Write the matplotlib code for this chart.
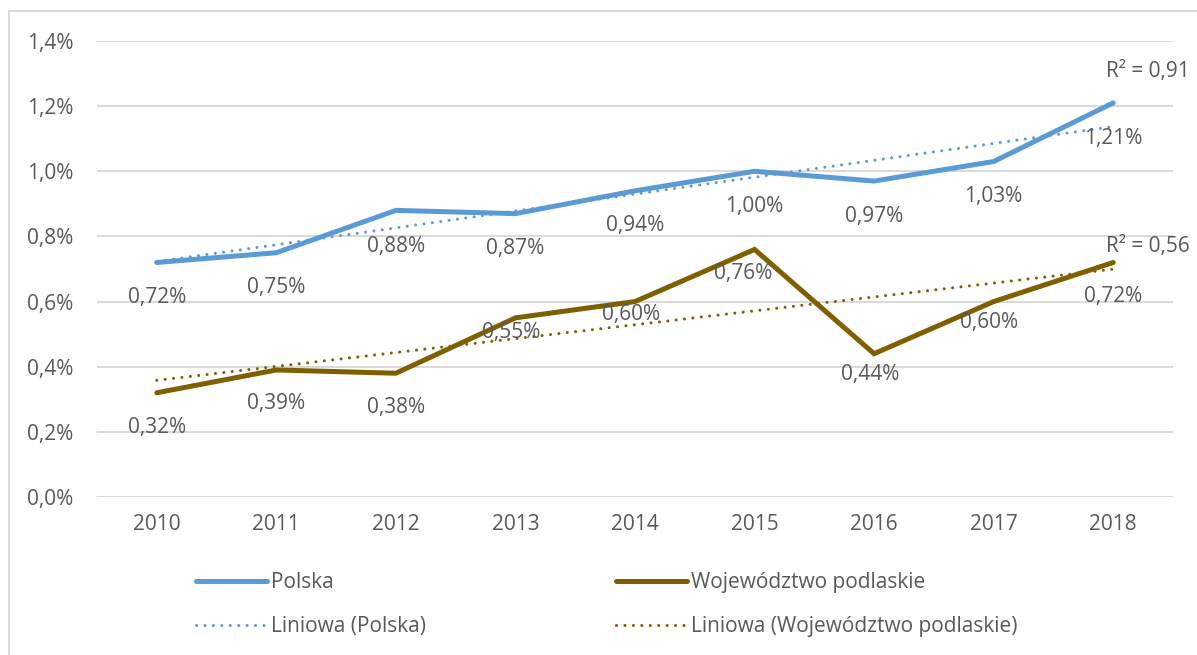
import numpy as np
import matplotlib.pyplot as plt
from matplotlib.patches import Rectangle

years = ['2010', '2011', '2012', '2013', '2014', '2015', '2016', '2017', '2018']
polska = [0.72, 0.75, 0.88, 0.87, 0.94, 1.00, 0.97, 1.03, 1.21]
podlaskie = [0.32, 0.39, 0.38, 0.55, 0.60, 0.76, 0.44, 0.60, 0.72]

# label offsets below the point, pixels
polska_dy = [35, 35, 36, 35, 35, 35, 35, 35, 36]
podlaskie_dy = [35, 34, 34, 15, 13, 24, 21, 21, 34]
podlaskie_dx = [0, 0, 0, -4, -4, -11, -4, -5, 0]

blue = '#5B9BD5'
gold = '#7F6000'
txt = '#595959'
grid_c = '#D9D9D9'

plt.rcParams['font.family'] = ['Open Sans', 'DejaVu Sans']
FS = 15

W, H = 1197, 655
fig = plt.figure(figsize=(W / 100, H / 100), dpi=100)
ax = fig.add_axes([97 / W, 1 - 497 / H, (1173 - 97) / W, (497 - 41) / H])

x = np.arange(len(years))

def fmt(v, nd):
    return f'{v:.{nd}f}'.replace('.', ',')

def trend(y):
    a, b = np.polyfit(x, y, 1)
    fit = a * x + b
    r2 = 1 - np.sum((np.array(y) - fit) ** 2) / np.sum((np.array(y) - np.mean(y)) ** 2)
    return fit, r2

dots = (0, (0.01, 2.75))
lp, = ax.plot(x, polska, color=blue, lw=3.6, solid_capstyle='round', solid_joinstyle='miter', zorder=3)
lw_, = ax.plot(x, podlaskie, color=gold, lw=3.6, solid_capstyle='round', solid_joinstyle='miter', zorder=3)
fp, r2p = trend(polska)
fw, r2w = trend(podlaskie)
tp, = ax.plot(x, fp, color=blue, lw=2.2, linestyle=dots, dash_capstyle='round', zorder=4)
tw, = ax.plot(x, fw, color=gold, lw=2.2, linestyle=dots, dash_capstyle='round', zorder=4)

for i, v in enumerate(polska):
    ax.annotate(fmt(v, 2) + '%', (x[i], v), xytext=(0, -polska_dy[i]), textcoords='offset pixels',
                ha='center', va='center', fontsize=FS, color=txt, zorder=5)
for i, v in enumerate(podlaskie):
    ax.annotate(fmt(v, 2) + '%', (x[i], v), xytext=(podlaskie_dx[i], -podlaskie_dy[i]), textcoords='offset pixels',
                ha='center', va='center', fontsize=FS, color=txt, zorder=5)

ax.annotate('R² = ' + fmt(r2p, 2), (x[-1], fp[-1]), xytext=(35, 55), textcoords='offset pixels',
            ha='center', va='center', fontsize=FS, color=txt)
ax.annotate('R² = ' + fmt(r2w, 2), (x[-1], fw[-1]), xytext=(35, 23), textcoords='offset pixels',
            ha='center', va='center', fontsize=FS, color=txt)

ax.set_xlim(-0.5, len(years) - 0.5)
ax.set_ylim(0, 1.4)
ax.set_xticks(x)
ax.set_xticklabels(years)
yt = np.arange(0, 1.41, 0.2)
ax.set_yticks(yt)
ax.set_yticklabels([fmt(v, 1) + '%' for v in yt])
ax.tick_params(length=0, labelsize=FS, labelcolor=txt)
ax.tick_params(axis='y', pad=17)
ax.tick_params(axis='x', pad=12)
ax.grid(axis='y', color=grid_c, lw=1.4)
ax.set_axisbelow(True)
for s in ax.spines.values():
    s.set_visible(False)

fig.patches.append(Rectangle((9 / W, -0.1), 1.2, 1 - 11 / H + 0.1, transform=fig.transFigure,
                             fill=False, edgecolor=grid_c, lw=1.5))

leg_kw = dict(loc='upper left', frameon=False, fontsize=FS, handlelength=3.4, handletextpad=0.2,
              labelspacing=1.1, borderpad=0, borderaxespad=0, labelcolor=txt)
fig.legend([lp, tp], ['Polska', 'Liniowa (Polska)'], bbox_to_anchor=(196 / W, 1 - 572 / H), **leg_kw)
fig.legend([lw_, tw], ['Województwo podlaskie', 'Liniowa (Województwo podlaskie)'],
           bbox_to_anchor=(616 / W, 1 - 572 / H), **leg_kw)

fig.savefig('out.png', dpi=100)
